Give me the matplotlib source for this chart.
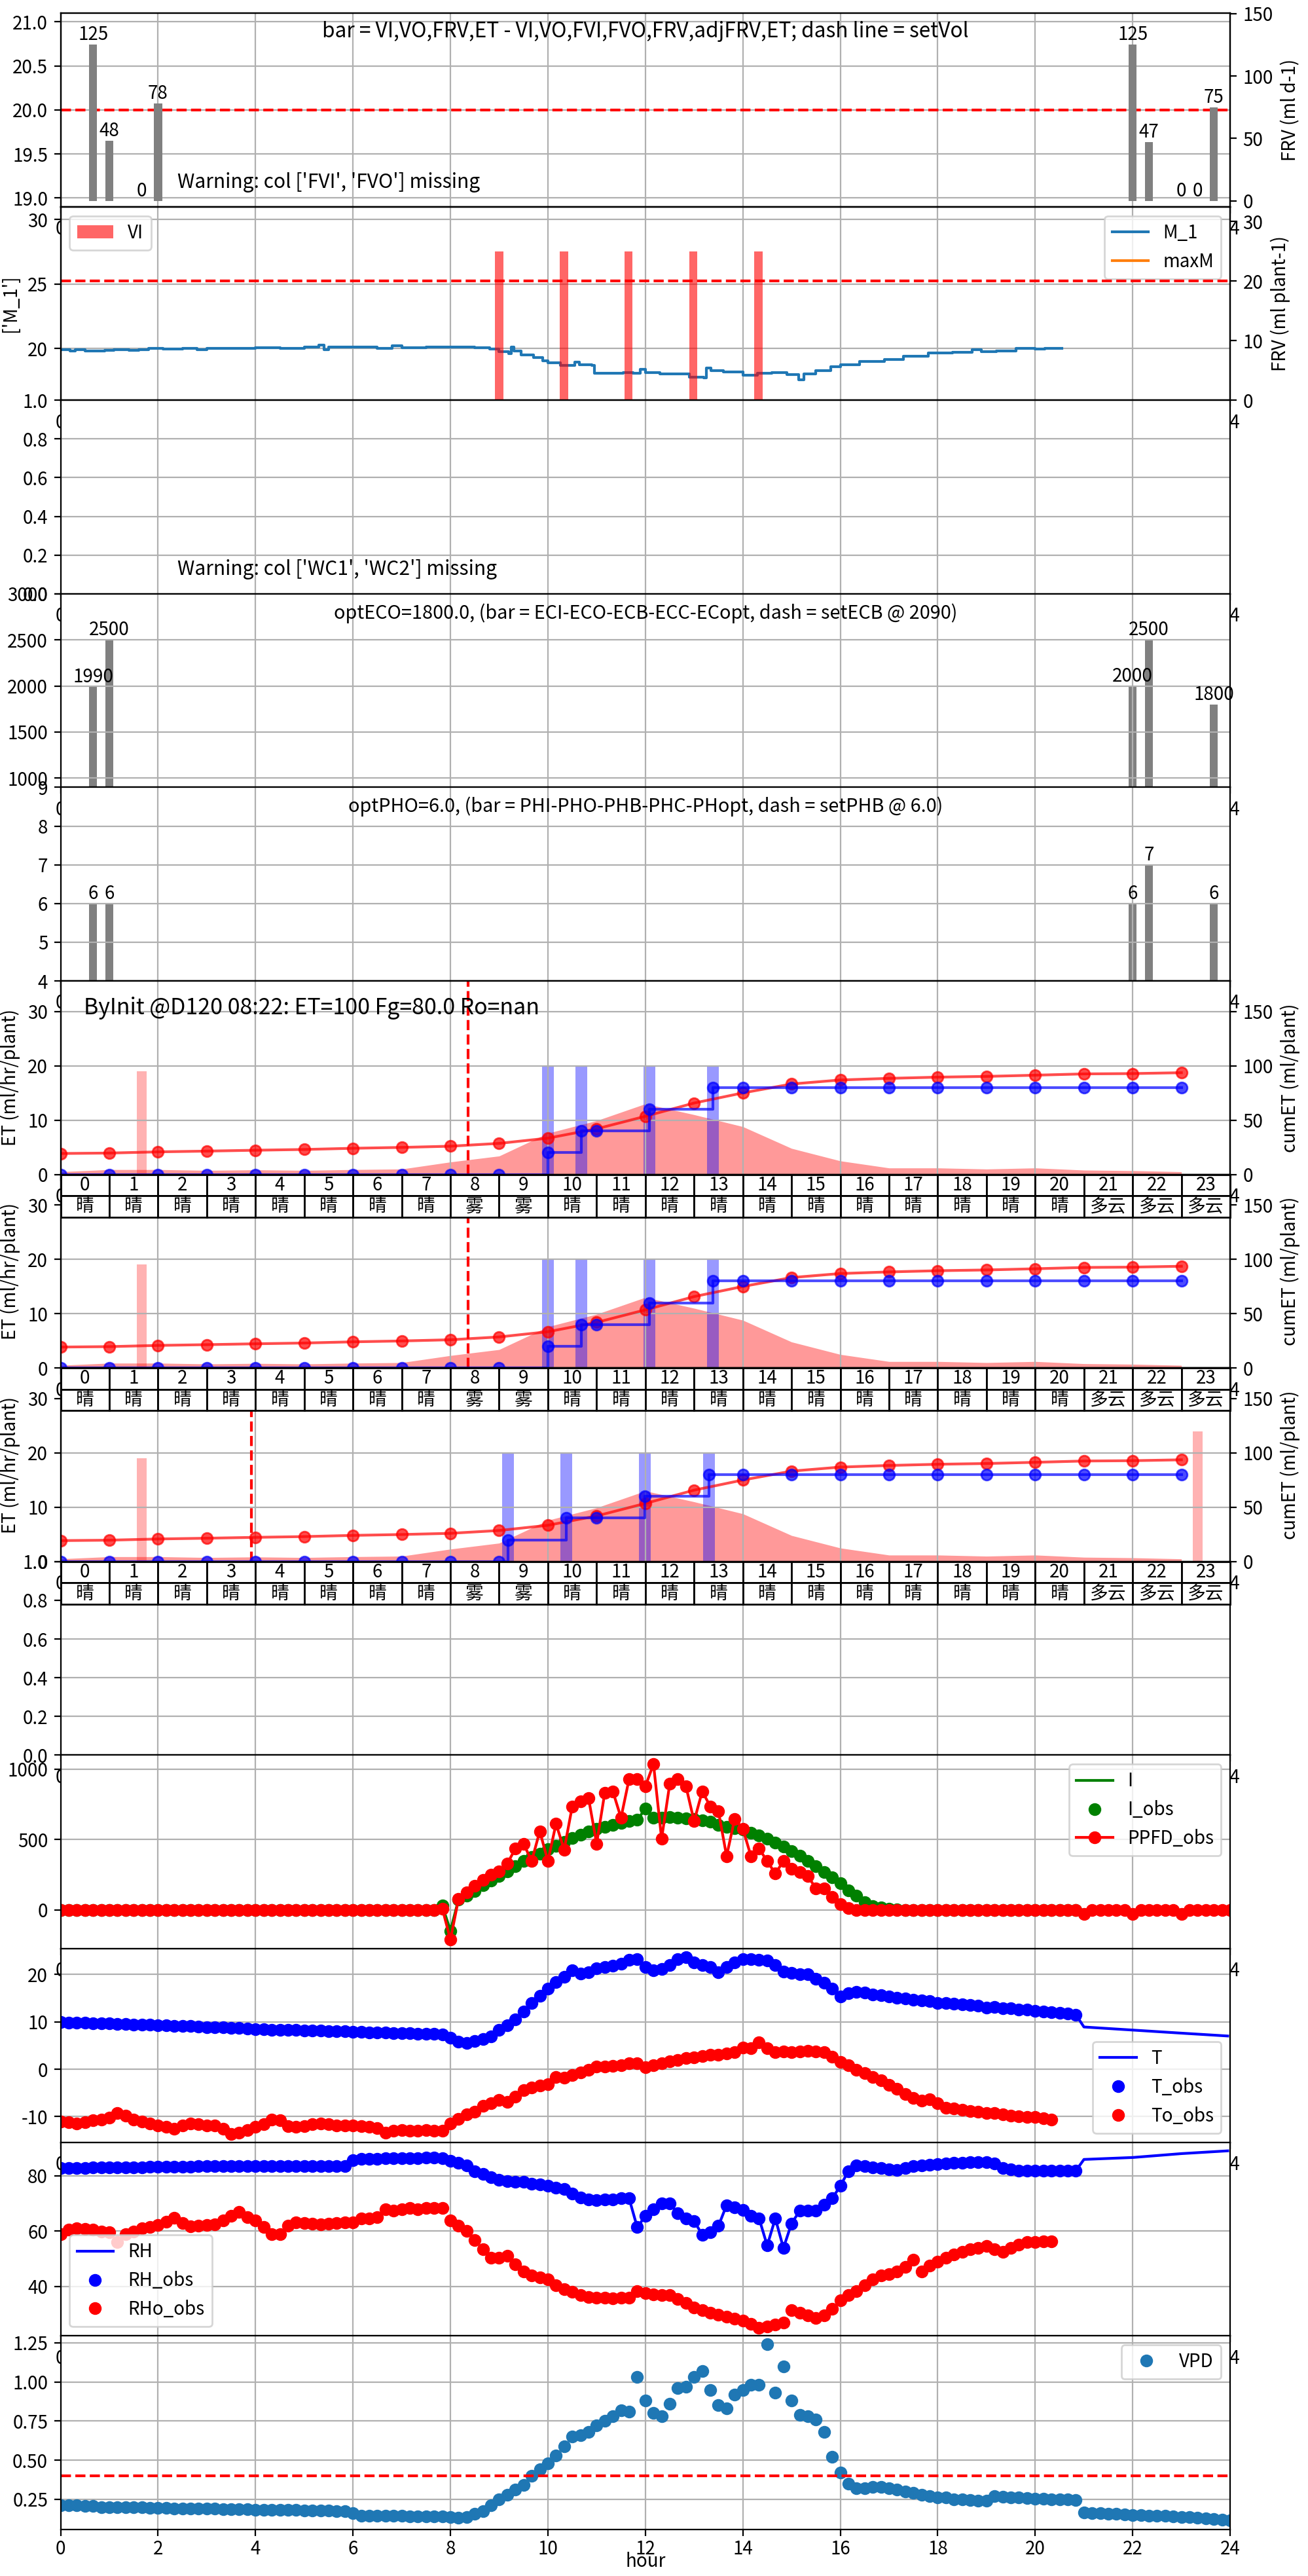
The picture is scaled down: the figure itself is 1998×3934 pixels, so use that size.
import numpy as np
import matplotlib
matplotlib.use("Agg")
import matplotlib.pyplot as plt

plt.rcParams['font.family'] = ['Noto Sans CJK SC', 'DejaVu Sans']
plt.rcParams['axes.unicode_minus'] = False

# daily bars (previous day on the left, current day on the right)
frv_x = [0.667, 1.0, 1.667, 2.0, 22.0, 22.333, 23.0, 23.333, 23.667]
frv_day = [125, 48, 0, 78, 125, 47, 0, 0, 75]
ec_x = [0.667, 1.0, 22.0, 22.333, 23.667]
ec_val = [1990, 2500, 2000, 2500, 1800]
ph_val = [6, 6, 6, 7, 6]

# irrigation volume (VI) and moisture M_1
vi_x = [9.0, 10.33, 11.65, 12.98, 14.32]
vi_val = [25, 25, 25, 25, 25]
m1_t = [0.0, 0.2, 0.3, 0.5, 0.9, 1.1, 1.4, 1.6, 1.8, 2.1, 2.5, 2.8, 3.0, 4.0, 4.5,
        5.0, 5.3, 5.4, 5.5, 6.5, 6.8, 7.0, 7.5, 8.5, 8.8, 9.0, 9.2, 9.25, 9.3, 9.45,
        9.7, 9.9, 10.0, 10.25, 10.55, 10.65, 10.9, 10.95, 11.55, 11.75, 11.9, 12.0,
        12.3, 12.9, 13.2, 13.25, 13.35, 13.6, 14.0, 14.3, 14.6, 14.9, 15.15, 15.25,
        15.5, 15.8, 16.0, 16.4, 16.9, 17.3, 17.8, 18.3, 18.7, 18.9, 19.2, 19.6, 20.0,
        20.2, 20.54]
m1_v = [19.9, 19.8, 19.9, 19.8, 19.85, 19.9, 19.85, 19.9, 20.0, 19.95, 20.0, 19.9, 20.0, 20.05, 20.0,
        20.1, 20.3, 19.9, 20.1, 20.0, 20.2, 20.05, 20.1, 20.05, 19.95, 19.75, 19.6, 20.1, 19.8, 19.5,
        19.3, 19.05, 18.9, 18.7, 18.95, 18.75, 18.7, 18.1, 18.15, 18.1, 18.4, 18.15,
        18.05, 17.8, 17.75, 18.5, 18.3, 18.2, 17.95, 18.1, 18.15, 18.0, 17.6, 18.05,
        18.3, 18.6, 18.75, 19.0, 19.15, 19.4, 19.65, 19.7, 19.9, 19.75, 19.8, 20.0,
        19.95, 20.0, 20.0]

# hourly ET forecast panels
hours = list(range(24))
hour_lbl = [str(h) for h in hours]
weather = ['晴', '晴', '晴', '晴', '晴', '晴', '晴', '晴', '雾', '雾', '晴', '晴',
           '晴', '晴', '晴', '晴', '晴', '晴', '晴', '晴', '晴', '多云', '多云', '多云']
et_hourly = [0.5, 0.9, 0.9, 0.75, 0.85, 0.75, 0.9, 1.0, 2.3, 3.4, 7.6, 9.9,
             13.0, 11.0, 8.8, 4.8, 2.5, 1.2, 1.2, 1.0, 1.2, 0.8, 0.7, 0.5]
cum_et = [19.3, 19.7, 20.8, 21.5, 22.3, 23.0, 24.1, 24.9, 26.0, 28.6, 33.4, 42.0,
          53.5, 65.7, 75.0, 83.2, 86.9, 88.4, 89.5, 90.2, 91.3, 92.5, 92.8, 93.6]

et_titles = ['ByInit @D120 08:22: ET=100 Fg=80.0 Ro=nan',
             'ByEt @D120 08:22: ET=100 Fg=80.0 Ro=nan',
             'ByWoFv @D121 03:55: ET=75 Fg=80.0 Ro=10.0']
et_now = [8.367, 8.367, 3.917]
irr_t_d120 = [0, 1, 2, 3, 4, 5, 6, 7, 8, 9, 10.0, 10.69, 11, 12.08, 13.39,
              14, 15, 16, 17, 18, 19, 20, 21, 22, 23]
irr_v_d120 = [0, 0, 0, 0, 0, 0, 0, 0, 0, 0, 20, 40, 40, 60, 80,
              80, 80, 80, 80, 80, 80, 80, 80, 80, 80]
ev_d120 = [10.0, 10.69, 12.08, 13.39]
irr_t_d121 = [0, 1, 2, 3, 4, 5, 6, 7, 8, 9, 9.18, 10.38, 11, 11.99, 13.30,
              14, 15, 16, 17, 18, 19, 20, 21, 22, 23]
irr_v_d121 = [0, 0, 0, 0, 0, 0, 0, 0, 0, 0, 20, 40, 40, 60, 80,
              80, 80, 80, 80, 80, 80, 80, 80, 80, 80]
ev_d121 = [9.18, 10.38, 11.99, 13.30]
pink_x_d120 = [1.667]
pink_h_d120 = [19]
pink_x_d121 = [1.667, 23.333]
pink_h_d121 = [19, 24]

# 10-minute observations, starting at 00:00
i_obs = [0, 0, 0, 0, 0, 0,  0, 0, 0, 0, 0, 0,  0, 0, 0, 0, 0, 0,  0, 0, 0, 0, 0, 0,
         0, 0, 0, 0, 0, 0,  0, 0, 0, 0, 0, 0,  0, 0, 0, 0, 0, 0,  0, 0, 0, 0, 0, 30,
         -149, 75, 100, 134, 175, 210,
         240, 275, 310, 347, 375, 400,
         430, 455, 483, 513, 535, 555,
         577, 590, 605, 619, 630, 640,
         718, 656, 657, 658, 656, 652,
         648, 638, 625, 602, 592, 580,
         570, 550, 530, 506, 480, 450,
         418, 385, 350, 311, 270, 230,
         188, 140, 99, 53, 28, 15,
         8, 3, 0, 0, 0, 0,  0, 0, 0, 0, 0, 0,  0, 0, 0, 0, 0, 0,  0, 0, 0, 0, 0, 0]
i_fc_t = [21, 22, 23, 24]
i_fc = [0, 0, 0, 0]
ppfd_obs = [0, 0, 0, 0, 0, 0,  0, 0, 0, 0, 0, 0,  0, 0, 0, 0, 0, 0,  0, 0, 0, 0, 0, 0,
            0, 0, 0, 0, 0, 0,  0, 0, 0, 0, 0, 0,  0, 0, 0, 0, 0, 0,  0, 0, 0, 0, 0, 10,
            -212, 80, 125, 170, 215, 250,
            275, 330, 435, 471, 347, 559,
            347, 612, 428, 736, 771, 796,
            471, 832, 842, 655, 931, 931,
            878, 1037, 506, 895, 931, 878,
            630, 842, 736, 701, 382, 648,
            577, 382, 435, 347, 258, 347,
            294, 270, 241, 152, 152, 90,
            40, 11, 0, 0, 0, 0,
            0, 0, 0, 0, 0, 0,  0, 0, 0, 0, 0, 0,  0, 0, 0, 0, 0, 0,  0, 0, 0, 0, 0, 0,
            -30, 0, 0, 0, 0, 0,  -30, 0, 0, 0, 0, 0,  -30, 0, 0, 0, 0, 0,  0]

t_obs = [9.9, 9.85, 9.8, 9.75, 9.7, 9.65,
         9.6, 9.55, 9.5, 9.45, 9.4, 9.35,
         9.25, 9.2, 9.15, 9.1, 9.05, 9.0,
         8.9, 8.85, 8.8, 8.7, 8.65, 8.6,
         8.45, 8.4, 8.35, 8.3, 8.3, 8.25,
         8.2, 8.15, 8.1, 8.05, 8.0, 7.95,
         7.9, 7.85, 7.8, 7.75, 7.7, 7.65,
         7.6, 7.55, 7.5, 7.45, 7.4, 7.3,
         6.6, 5.8, 5.5, 5.9, 6.3, 6.9,
         8.3, 9.2, 10.5, 12.2, 14.0, 15.5,
         17.0, 18.3, 19.5, 20.8, 20.2, 20.5,
         21.2, 21.5, 21.8, 22.2, 23.0, 23.2,
         21.5, 20.8, 21.1, 22.0, 23.2, 23.6,
         22.5, 22.0, 21.5, 20.5, 21.5, 22.5,
         23.2, 23.2, 23.0, 22.9, 22.0, 20.6,
         20.3, 20.0, 20.0, 19.0, 18.2, 17.0,
         15.3, 16.0, 16.3, 16.1, 15.8, 15.6,
         15.3, 15.1, 14.9, 14.7, 14.5, 14.3,
         14.0, 13.9, 13.8, 13.7, 13.5, 13.4,
         13.0, 13.1, 12.9, 12.8, 12.6, 12.5,
         12.3, 12.2, 12.0, 11.9, 11.7, 11.5]
t_fc_t = [21.0, 22.0, 23.0, 23.95]
t_fc = [8.9, 8.25, 7.6, 7.0]
to_obs = [-11.0, -11.2, -11.4, -11.2, -10.8, -10.6,
          -10.2, -9.2, -9.8, -10.6, -11.0, -11.5,
          -11.8, -12.2, -12.6, -11.8, -11.4, -11.6,
          -11.8, -11.8, -12.5, -13.6, -13.4, -12.8,
          -12.2, -11.6, -10.6, -10.8, -12.0, -12.2,
          -12.0, -11.6, -11.4, -11.6, -11.8, -11.8,
          -11.8, -12.0, -12.2, -12.4, -13.4, -13.0,
          -12.8, -13.0, -13.0, -12.8, -13.0, -13.0,
          -11.4, -10.5, -9.5, -8.9, -7.7, -7.2,
          -6.5, -6.9, -5.8, -4.4, -3.8, -3.4,
          -3.2, -1.6, -1.8, -1.2, -0.7, -0.2,
          0.5, 0.6, 0.7, 0.8, 1.2, 1.3,
          0.4, 0.8, 1.2, 1.6, 2.0, 2.3,
          2.5, 2.8, 3.0, 3.1, 3.3, 3.6,
          4.6, 4.4, 5.7, 4.4, 3.6, 3.8,
          3.6, 3.8, 3.9, 3.8, 3.6, 2.6,
          1.5, 0.8, -0.2, -0.8, -1.6, -2.4,
          -3.3, -4.2, -5.2, -6.0, -6.6, -6.4,
          -7.2, -8.1, -8.3, -8.6, -8.8, -9.0,
          -9.2, -9.3, -9.5, -9.8, -10.0, -10.1,
          -10.1, -10.3, -10.6]

rh_obs = [82.8, 82.8, 82.9, 82.9, 83.0, 83.0,
          83.0, 83.0, 83.1, 83.1, 83.1, 83.2,
          83.2, 83.2, 83.3, 83.3, 83.3, 83.4,
          83.4, 83.4, 83.4, 83.5, 83.5, 83.5,
          83.5, 83.5, 83.5, 83.6, 83.6, 83.6,
          83.6, 83.6, 83.6, 83.6, 83.5, 83.5,
          85.6, 86.0, 86.1, 86.2, 86.3, 86.3,
          86.3, 86.4, 86.4, 86.5, 86.6, 86.3,
          85.4, 84.6, 83.8, 81.7, 80.7, 79.5,
          78.5, 78.0, 77.9, 77.8, 77.2, 76.8,
          76.5, 75.8, 75.1, 73.5, 72.2, 71.5,
          71.3, 71.5, 71.5, 71.8, 71.8, 61.4,
          65.5, 68.0, 70.0, 70.0, 66.4, 64.5,
          63.7, 58.7, 59.5, 61.9, 69.4, 68.5,
          67.6, 65.5, 64.6, 54.8, 64.6, 53.9,
          62.8, 67.3, 67.3, 67.5, 69.5, 71.8,
          76.3, 81.7, 83.8, 83.5, 83.0, 82.7,
          82.4, 82.1, 82.8, 83.5, 83.8, 84.0,
          84.2, 84.4, 84.6, 84.7, 84.8, 84.9,
          84.9, 84.5, 82.8, 82.2, 81.8, 81.8,
          81.8, 81.8, 81.8, 81.8, 81.8, 81.8]
rh_fc_t = [21.0, 22.0, 23.0, 23.95]
rh_fc = [85.9, 86.6, 88.0, 89.0]
rho_obs = [58.9, 60.5, 61.0, 60.8, 60.5, 59.8,
           59.5, 56.0, 59.0, 59.8, 61.0, 61.5,
           62.1, 63.5, 64.8, 63.0, 61.7, 62.0,
           62.1, 62.5, 63.8, 65.5, 66.9, 65.0,
           63.8, 61.5, 59.0, 58.9, 62.0, 63.1,
           63.0, 62.7, 62.5, 62.8, 63.0, 63.1,
           63.1, 64.5, 64.5, 65.0, 68.0, 67.5,
           68.0, 68.3, 68.0, 68.3, 68.3, 68.3,
           63.8, 62.0, 60.0, 56.8, 53.5, 50.4,
           50.4, 51.1, 48.0, 45.5, 44.0, 43.2,
           42.6, 40.5, 39.0, 38.0, 37.0, 36.3,
           35.9, 35.9, 35.8, 35.9, 36.0, 38.4,
           37.7, 37.2, 37.0, 36.8, 35.5, 34.0,
           32.3, 31.5, 30.5, 29.8, 29.0, 28.3,
           27.8, 26.5, 25.1, 25.5, 26.2, 26.9,
           31.4, 30.5, 29.5, 28.7, 29.5, 32.0,
           35.0, 36.8, 38.4, 40.5, 42.6, 44.0,
           44.5, 45.5, 47.0, 49.7, 45.5, 47.5,
           49.0, 50.4, 51.5, 52.5, 53.5, 54.0,
           54.6, 53.5, 52.5, 54.0, 55.0, 56.0,
           56.0, 56.2, 56.4]

vpd = [0.21, 0.21, 0.21, 0.205, 0.205, 0.20,
       0.20, 0.20, 0.20, 0.20, 0.20, 0.195,
       0.195, 0.195, 0.19, 0.19, 0.19, 0.19,
       0.19, 0.19, 0.185, 0.185, 0.185, 0.185,
       0.18, 0.18, 0.18, 0.18, 0.18, 0.18,
       0.178, 0.178, 0.177, 0.176, 0.175, 0.175,
       0.16, 0.145, 0.145, 0.145, 0.143, 0.142,
       0.142, 0.141, 0.14, 0.14, 0.14, 0.14,
       0.135, 0.13, 0.135, 0.155, 0.175, 0.21,
       0.25, 0.28, 0.31, 0.34, 0.40, 0.44,
       0.48, 0.53, 0.59, 0.65, 0.66, 0.68,
       0.72, 0.75, 0.78, 0.82, 0.81, 1.03,
       0.88, 0.80, 0.78, 0.86, 0.96, 0.97,
       1.03, 1.07, 0.95, 0.85, 0.83, 0.92,
       0.95, 0.98, 0.98, 1.24, 0.93, 1.10,
       0.88, 0.79, 0.78, 0.76, 0.68, 0.52,
       0.42, 0.35, 0.32, 0.32, 0.33, 0.33,
       0.32, 0.31, 0.30, 0.29, 0.28, 0.27,
       0.26, 0.26, 0.25, 0.25, 0.245, 0.24,
       0.24, 0.27, 0.265, 0.26, 0.26, 0.258,
       0.255, 0.255, 0.25, 0.25, 0.248, 0.245,
       0.165, 0.162, 0.159, 0.157, 0.155, 0.152,
       0.150, 0.148, 0.146, 0.144, 0.142, 0.140,
       0.137, 0.134, 0.130, 0.126, 0.122, 0.118,
       0.115]


def obs_time(vals):
    return np.arange(len(vals)) / 6.0


fig, axes = plt.subplots(13, 1, figsize=(9.995, 19.67), dpi=200)
fig.subplots_adjust(left=0.0463, right=0.94, top=0.9949, bottom=0.0181, hspace=0)

for ax in axes:
    ax.set_xlim(0, 24)
    ax.set_xticks(range(0, 25, 2))
    ax.grid(True)

# 1. daily volumes
ax = axes[0]
ax.axhline(20, color='r', ls='--')
ax.set_ylim(18.9, 21.1)
ax.set_yticks([19.0, 19.5, 20.0, 20.5, 21.0])
ax.text(0.5, 0.906, 'bar = VI,VO,FRV,ET - VI,VO,FVI,FVO,FRV,adjFRV,ET; dash line = setVol',
        transform=ax.transAxes, ha='center', va='center', fontsize=11.4)
ax.text(0.1, 0.125, "Warning: col ['FVI', 'FVO'] missing", transform=ax.transAxes,
        va='center', fontsize=10.8)
ax2 = ax.twinx()
ax2.bar(frv_x, frv_day, width=1 / 6, color='gray')
for x, v in zip(frv_x, frv_day):
    ax2.text(x, v, str(v), ha='center', va='bottom')
ax2.set_ylim(-4.7, 150.4)
ax2.set_yticks([0, 50, 100, 150])
ax2.set_ylabel('FRV (ml d-1)')

# 2. moisture + irrigation
ax = axes[1]
ax.plot(m1_t, m1_v, drawstyle='steps-post', label='M_1')
ax.plot([], [], label='maxM')
ax.set_ylim(16, 31)
ax.set_yticks([20, 25, 30])
ax.set_ylabel("['M_1']")
ax.legend(loc='upper right')
ax2 = ax.twinx()
ax2.bar(vi_x, vi_val, width=1 / 6, color='r', alpha=0.6, label='VI')
ax2.axhline(20, color='r', ls='--')
ax2.set_ylim(0, 32.5)
ax2.set_yticks([0, 10, 20, 30])
ax2.set_ylabel('FRV (ml plant-1)')
ax2.legend(loc='upper left')

# 3. water content (missing)
ax = axes[2]
ax.text(0.1, 0.125, "Warning: col ['WC1', 'WC2'] missing", transform=ax.transAxes,
        va='center', fontsize=10.8)

# 4. EC
ax = axes[3]
ax.bar(ec_x, ec_val, width=1 / 6, color='gray')
for x, v in zip(ec_x, ec_val):
    ax.text(x, v, str(v), ha='center', va='bottom')
ax.set_ylim(900, 3000)
ax.set_yticks([1000, 1500, 2000, 2500, 3000])
ax.text(0.5, 0.9, 'optECO=1800.0, (bar = ECI-ECO-ECB-ECC-ECopt, dash = setECB @ 2090)',
        transform=ax.transAxes, ha='center', va='center', fontsize=10.4)

# 5. PH
ax = axes[4]
ax.bar(ec_x, ph_val, width=1 / 6, color='gray')
for x, v in zip(ec_x, ph_val):
    ax.text(x, v, str(v), ha='center', va='bottom')
ax.set_ylim(4, 9)
ax.text(0.5, 0.9, 'optPHO=6.0, (bar = PHI-PHO-PHB-PHC-PHopt, dash = setPHB @ 6.0)',
        transform=ax.transAxes, ha='center', va='center', fontsize=10.4)

# 6-8. ET forecast panels
irr_t_list = [irr_t_d120, irr_t_d120, irr_t_d121]
irr_v_list = [irr_v_d120, irr_v_d120, irr_v_d121]
ev_list = [ev_d120, ev_d120, ev_d121]
pink_x_list = [pink_x_d120, pink_x_d120, pink_x_d121]
pink_h_list = [pink_h_d120, pink_h_d120, pink_h_d121]
for k in range(3):
    ax = axes[5 + k]
    ax.fill_between(hours, et_hourly, color='r', alpha=0.4, linewidth=0)
    ax.bar(ev_list[k], [20] * len(ev_list[k]), width=0.24, color='b', alpha=0.4)
    ax.bar(pink_x_list[k], pink_h_list[k], width=0.2, color='r', alpha=0.3)
    ax.axvline(et_now[k], color='r', ls='--')
    ax.set_ylim(0, 35.6)
    ax.set_yticks([0, 10, 20, 30])
    ax.set_ylabel('ET (ml/hr/plant)')
    ax.text(0.02, 0.86, et_titles[k], transform=ax.transAxes, va='center', fontsize=12.2)
    ax2 = ax.twinx()
    ax2.plot(hours, cum_et, 'o-', color='r', alpha=0.7)
    ax2.plot(irr_t_list[k], irr_v_list[k], 'o-', color='b', alpha=0.7, drawstyle='steps-post')
    ax2.set_ylim(0, 178)
    ax2.set_yticks([0, 50, 100, 150])
    ax2.set_ylabel('cumET (ml/plant)')
    tb = ax2.table(cellText=[hour_lbl, weather], cellLoc='center', bbox=[0, -0.22, 1, 0.22])
    tb.auto_set_font_size(False)
    tb.set_fontsize(10)

# 9. empty

# 10. light
ax = axes[9]
ax.plot(np.concatenate([obs_time(i_obs), i_fc_t]), i_obs + i_fc, color='g', label='I')
ax.plot(obs_time(i_obs), i_obs, 'o', color='g', label='I_obs')
ax.plot(obs_time(ppfd_obs), ppfd_obs, 'o-', color='r', label='PPFD_obs')
ax.set_ylim(-276, 1100)
ax.set_yticks([0, 500, 1000])
ax.legend(loc='upper right')

# 11. temperature
ax = axes[10]
ax.plot(np.concatenate([obs_time(t_obs), t_fc_t]), t_obs + t_fc, color='b', label='T')
ax.plot(obs_time(t_obs), t_obs, 'o', color='b', label='T_obs')
ax.plot(obs_time(to_obs), to_obs, 'o', color='r', label='To_obs')
ax.set_ylim(-15.4, 25.4)
ax.set_yticks([-10, 0, 10, 20])
ax.legend(loc='lower right')

# 12. humidity
ax = axes[11]
ax.plot(np.concatenate([obs_time(rh_obs), rh_fc_t]), rh_obs + rh_fc, color='b', label='RH')
ax.plot(obs_time(rh_obs), rh_obs, 'o', color='b', label='RH_obs')
ax.plot(obs_time(rho_obs), rho_obs, 'o', color='r', label='RHo_obs')
ax.set_ylim(22.2, 92.1)
ax.set_yticks([40, 60, 80])
ax.legend(loc='lower left')

# 13. VPD
ax = axes[12]
ax.plot(obs_time(vpd), vpd, 'o', label='VPD')
ax.axhline(0.4, color='r', ls='--')
ax.set_ylim(0.057, 1.295)
ax.set_yticks([0.25, 0.5, 0.75, 1.0, 1.25])
ax.legend(loc='upper right')
ax.tick_params(axis='x', pad=2)
ax.set_xlabel('hour', labelpad=-4)

fig.savefig('out.png', dpi=200)
